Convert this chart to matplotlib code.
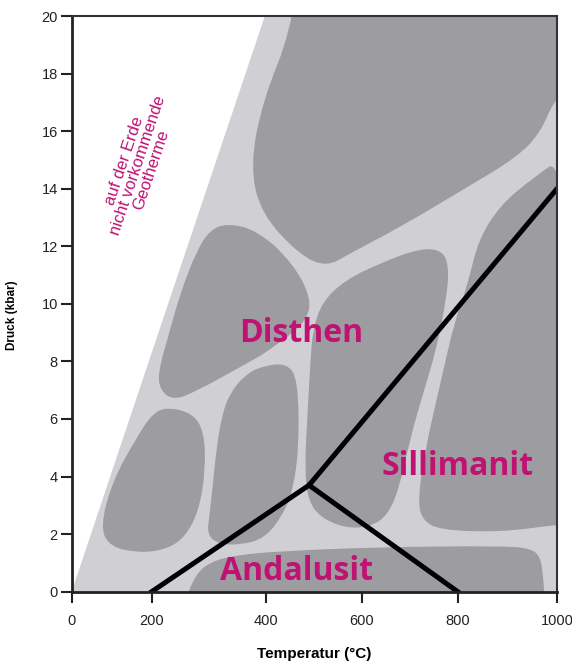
import numpy as np
import matplotlib
matplotlib.use("Agg")
import matplotlib.pyplot as plt
from matplotlib.path import Path
from matplotlib.patches import PathPatch, Polygon

# axis ticks
temp_ticks = [0, 200, 400, 600, 800, 1000]
press_ticks = list(range(0, 21, 2))

# the original drawing spaces its temperature ticks unevenly
scale_t = [-500, 0, 200, 400, 600, 800, 1000, 1500]
scale_u = [-200, 0, 80, 194.3, 290, 386, 485.3, 733.6]

# light grey field of possible geotherms (left edge)
wedge_t = [0, 200, 398, 1000, 1000]
wedge_p = [0, 8.3, 20, 20, 0]

# dark grey facies fields (T in degC, P in kbar)
blob1_t = [470, 452, 395, 372, 392, 470, 527, 576, 680, 819, 919, 966, 995, 1020, 1020]
blob1_p = [22, 19.5, 17.1, 14.8, 13.1, 11.7, 11.28, 11.76, 12.66, 14.05, 15.09, 15.93, 17.1, 17.3, 22]

blob2_t = [302, 332, 384, 456, 494, 486, 429, 355, 272, 237, 215, 211, 227, 250, 279]
blob2_p = [12.56, 12.80, 12.56, 11.41, 10.23, 9.43, 8.64, 7.80, 6.90, 6.66, 7.00, 7.59, 8.74, 10.37, 11.86]

blob3_t = [227, 272, 292, 294, 283, 259, 224, 171, 96, 71, 103, 163, 202]
blob3_p = [6.41, 6.20, 5.54, 4.23, 2.84, 1.90, 1.45, 1.35, 1.55, 2.25, 3.88, 5.37, 6.20]

blob4_t = [337, 363, 393, 444, 467, 469, 456, 435, 398, 355, 317, 297, 301, 307, 313, 323]
blob4_p = [6.90, 7.52, 7.84, 7.94, 7.35, 5.02, 3.50, 2.66, 1.86, 1.62, 1.66, 1.97, 2.66, 3.70, 4.92, 6.14]

blob5_t = [498, 517, 565, 638, 721, 769, 782, 776, 755, 730, 700, 680, 655, 617, 565, 513, 488, 481, 486, 493]
blob5_p = [9.09, 10.06, 10.82, 11.41, 11.93, 11.86, 11.24, 10.13, 8.39, 7.00, 5.27, 3.70, 2.66, 2.25, 2.21, 2.59, 3.18, 4.23, 5.96, 8.05]

blob6_t = [1020, 946, 886, 841, 820, 794, 763, 732, 717, 726, 763, 886, 997, 1020]
blob6_p = [15.2, 14.30, 13.43, 12.21, 10.65, 9.43, 7.18, 4.92, 3.18, 2.49, 2.14, 2.07, 2.32, 2.32]

blob7_t = [255, 276, 302, 346, 429, 638, 886, 946, 966, 972, 976]
blob7_p = [-0.5, 0.58, 1.03, 1.27, 1.41, 1.55, 1.59, 1.51, 1.23, 0.58, -0.5]

# Al2SiO5 phase boundaries
ky_line_t = [200, 490, 1000]
ky_line_p = [0, 3.7, 14]
and_sil_t = [490, 800]
and_sil_p = [3.7, 0]

labels = ["Disthen", "Sillimanit", "Andalusit"]
label_t = [474, 800, 464]
label_p = [8.67, 4.05, 0.41]

note_text = "auf der Erde\nnicht vorkommende\nGeotherme"
note_t, note_p = 165, 14.8

LIGHT = "#d0d0d4"
DARK = "#9c9ca1"
MAGENTA = "#bf1273"


def fwd(t):
    return np.interp(t, scale_t, scale_u)


def inv(u):
    return np.interp(u, scale_u, scale_t)


def blob_path(ts, ps):
    pts = np.column_stack([ts, ps]).astype(float)
    mids = (pts + np.roll(pts, -1, axis=0)) / 2
    verts = [mids[-1]]
    codes = [Path.MOVETO]
    for i in range(len(pts)):
        verts += [pts[i], mids[i]]
        codes += [Path.CURVE3, Path.CURVE3]
    verts.append(mids[-1])
    codes.append(Path.CLOSEPOLY)
    return Path(verts, codes)


plt.rcParams["font.family"] = ["Liberation Sans", "DejaVu Sans"]

fig = plt.figure(figsize=(5.72, 6.64), dpi=100)
ax = fig.add_axes([0.1253, 0.1089, 0.8485, 0.867])
ax.set_xscale("function", functions=(fwd, inv))
ax.set_xlim(0, 1000)
ax.set_ylim(0, 20)

ax.add_patch(Polygon(np.column_stack([wedge_t, wedge_p]), closed=True,
                     facecolor=LIGHT, edgecolor="none", zorder=1))
for bt, bp in [(blob1_t, blob1_p), (blob2_t, blob2_p), (blob3_t, blob3_p),
               (blob4_t, blob4_p), (blob5_t, blob5_p), (blob6_t, blob6_p),
               (blob7_t, blob7_p)]:
    ax.add_patch(PathPatch(blob_path(bt, bp), facecolor=DARK,
                           edgecolor="none", zorder=1.5))

ax.plot(ky_line_t, ky_line_p, color="black", lw=3.6, zorder=2,
        solid_joinstyle="miter")
ax.plot(and_sil_t, and_sil_p, color="black", lw=3.6, zorder=2)

for txt, t, p in zip(labels, label_t, label_p):
    ax.text(t, p, txt, ha="center", va="baseline", color=MAGENTA,
            fontsize=23, fontweight="bold", family=["Open Sans", "DejaVu Sans"],
            zorder=3)

ax.text(note_t, note_p, note_text, ha="center", va="center",
        multialignment="center", rotation=71.5, color=MAGENTA,
        fontsize=12, linespacing=0.95, zorder=3)

ax.set_xticks(temp_ticks)
ax.set_xticklabels([str(t) for t in temp_ticks])
ax.set_yticks(press_ticks)
ax.minorticks_off()
ax.tick_params(axis="both", direction="out", length=8, width=1.5,
               color="#222222", labelsize=10.5, labelcolor="#222222")
ax.tick_params(axis="x", pad=8)
ax.tick_params(axis="y", pad=2)

for side in ["left", "bottom"]:
    ax.spines[side].set_linewidth(2)
    ax.spines[side].set_color("#222222")
for side in ["top", "right"]:
    ax.spines[side].set_linewidth(1.5)
    ax.spines[side].set_color("#333333")
for s in ax.spines.values():
    s.set_zorder(4)

ax.set_xlabel("Temperatur (°C)", fontsize=11, fontweight="bold", labelpad=14)
ax.set_ylabel("Druck (kbar)", fontsize=8.5, fontweight="bold")
ax.yaxis.set_label_coords(-0.111, 0.48)

fig.savefig("out.png", dpi=100)
